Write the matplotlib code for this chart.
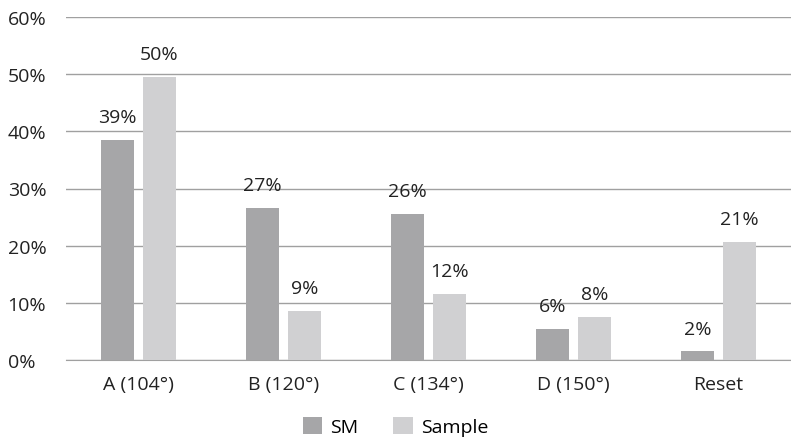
import matplotlib.pyplot as plt
import numpy as np

categories = ["A (104°)", "B (120°)", "C (134°)", "D (150°)", "Reset"]
sm_values = [38.5, 26.6, 25.6, 5.4, 1.5]
sample_values = [49.5, 8.6, 11.5, 7.5, 20.6]
sm_labels = ["39%", "27%", "26%", "6%", "2%"]
sample_labels = ["50%", "9%", "12%", "8%", "21%"]

plt.rcParams['font.family'] = ['Open Sans', 'DejaVu Sans']
plt.rcParams['font.size'] = 14

fig = plt.figure(figsize=(7.91, 4.39), dpi=100)
ax = fig.add_axes([66 / 791, 1 - 361 / 439, 725 / 791, 343 / 439])

x = np.arange(len(categories))
w = 0.228
off = 0.145
b1 = ax.bar(x - off, sm_values, w, color="#a6a6a8", label="SM", zorder=3)
b2 = ax.bar(x + off, sample_values, w, color="#d0d0d2", label="Sample", zorder=3)

for bars, labs in ((b1, sm_labels), (b2, sample_labels)):
    for r, t in zip(bars, labs):
        ax.annotate(t, (r.get_x() + r.get_width() / 2, r.get_height()),
                    xytext=(0, 10), textcoords="offset points",
                    ha="center", va="bottom", color="#222222")

ax.set_xlim(-0.5, len(categories) - 0.5)
ax.set_ylim(0, 60)
ax.set_yticks(range(0, 61, 10))
ax.set_yticklabels([f"{v}%" for v in range(0, 61, 10)])
ax.set_xticks(x)
ax.set_xticklabels(categories)
ax.grid(axis="y", color="#a0a0a0", linewidth=1, zorder=0)
for s in ["top", "right", "left"]:
    ax.spines[s].set_visible(False)
ax.spines["bottom"].set_color("#a0a0a0")
ax.tick_params(length=0, colors="#222222")
ax.tick_params(axis="y", pad=42)
ax.tick_params(axis="x", pad=11)
for t in ax.get_yticklabels():
    t.set_ha("left")

fig.legend(loc="lower center", bbox_to_anchor=(0.5, -0.035), ncol=2, frameon=False,
           handlelength=1.0, handleheight=1.0, columnspacing=1.8, handletextpad=0.4)

fig.savefig("out.png", dpi=100)
